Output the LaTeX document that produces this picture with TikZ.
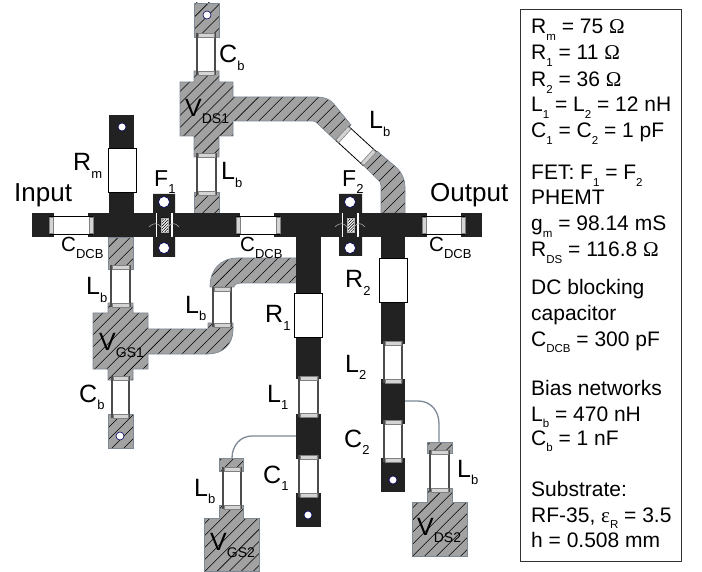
\documentclass[tikz,border=0pt]{standalone}
\usepackage{fontspec}
\usepackage{graphicx}
\setmainfont{Liberation Sans}
\newfontfamily\symf{Liberation Serif}
\usetikzlibrary{patterns.meta}
\definecolor{hg}{HTML}{A2A2A2}
\definecolor{edgeg}{HTML}{7C8894}
\definecolor{blk}{HTML}{222222}
\definecolor{stripg}{HTML}{D4D4D4}
\newcommand{\sbb}[1]{\raisebox{-.3em}{\fontsize{13}{13}\selectfont #1}}
\newcommand{\sbs}[1]{\raisebox{-.3em}{\fontsize{11.5}{12}\selectfont #1}}
\newcommand{\sbv}[1]{\raisebox{-.28em}{\fontsize{14}{14}\selectfont #1}}
\newcommand{\Om}{{\symf Ω}}
% vertical component: x1 x2 y1 y2
\newcommand{\vcomp}[4]{%
  \fill[white] (#1,#3) rectangle (#2,#4);
  \draw[sidel] (#1,#3) -- (#1,#4) (#2,#3) -- (#2,#4);
  \path[stripv] (#1+1,#3) rectangle (#2-1,#3+4);
  \path[stripv] (#1+1,#4-4) rectangle (#2-1,#4);}
\newcommand{\hcomp}[4]{%
  \fill[white] (#1,#3) rectangle (#2,#4);
  \draw[black,line width=.7pt] (#1,#3) -- (#2,#3) (#1,#4) -- (#2,#4);
  \path[stripv] (#1,#3+1) rectangle (#1+4,#4-1);
  \path[stripv] (#2-4,#3+1) rectangle (#2,#4-1);}
\tikzset{
  x=1pt,y=-1pt,
  hpad/.style={draw=edgeg,line width=.7pt,preaction={fill=hg},
    pattern={Lines[angle=45,distance=8.5pt,line width=.55pt]},pattern color=black},
  bpad/.style={fill=blk},
  sidel/.style={draw=black!70,line width=1.1pt},
  stripv/.style={fill=stripg,draw=gray,line width=.6pt},
  resbox/.style={fill=white,draw=black,line width=.7pt},
  hole/.style={circle,fill=white,draw=blue!40!black,line width=.6pt,inner sep=0pt,minimum size=#1},
  hole/.default=8pt,
  wire/.style={draw=edgeg,line width=1.3pt},
  big/.style={anchor=base west,inner sep=0pt,font=\fontsize{25}{25}\selectfont},
  mid/.style={anchor=base west,inner sep=0pt,font=\fontsize{20.5}{20.5}\selectfont},
  boxt/.style={anchor=base west,inner sep=0pt,font=\fontsize{21}{21}\selectfont},
}
\begin{document}
\begin{tikzpicture}
\useasboundingbox (0,0) rectangle (702,572);
% hatched bias networks
\path[hpad] (194,3) rectangle (219,37);
\path[hpad] (194,71) -- (219,71) -- (219,82) -- (233,82) -- (233,97) -- (317,97)
  .. controls (324,97) and (329,99) .. (333,103) -- (351,125) -- (335,140) -- (318,124)
  .. controls (316,122) and (315,121) .. (313,121) -- (233,121) -- (233,136) -- (219,136)
  -- (219,157) -- (194,157) -- (194,136) -- (180,136) -- (180,82) -- (194,82) -- cycle;
\path[hpad] (377,151) -- (397,168) .. controls (402,173) and (405,180) .. (405,187) -- (405,213)
  -- (381,213) -- (381,186) .. controls (381,183) and (380,181) .. (378,180) -- (363,165) -- cycle;
\path[hpad] (194,192) rectangle (219,213);
\path[hpad] (108,237) rectangle (133,269);
\path[hpad] (108,303) -- (133,303) -- (133,313) -- (148,313) -- (148,329) -- (208,329)
  -- (208,323) -- (233,323) -- (233,330) .. controls (233,345) and (222,354) .. (208,354)
  -- (148,354) -- (148,369) -- (133,369) -- (133,380) -- (108,380) -- (108,369) -- (93,369)
  -- (93,313) -- (108,313) -- cycle;
\path[hpad] (108,414) rectangle (133,448);
\path[hpad] (210,287) .. controls (210,270) and (220,258) .. (238,258) -- (297,258) -- (297,283)
  -- (243,283) .. controls (238,283) and (234,284) .. (234,287) -- cycle;
\path[hpad] (219,458) rectangle (243,471);
\path[hpad] (219,505) -- (243,505) -- (243,518) -- (259,518) -- (259,571) -- (204,571) -- (204,518) -- (219,518) -- cycle;
\path[hpad] (427,442) rectangle (452,453);
\path[hpad] (427,488) -- (452,488) -- (452,502) -- (467,502) -- (467,556) -- (412,556) -- (412,502) -- (427,502) -- cycle;
% bias wires
\coordinate (wa1) at (296,436); \coordinate (wa2) at (232,458);
\coordinate (wb1) at (405,401); \coordinate (wb2) at (439,442);
\draw[wire] (wa1) -- (252,436) .. controls (240,436) and (232,446) .. (wa2);
\draw[wire] (wb1) -- (418,401) .. controls (431,401) and (439,411) .. (439,424) -- (wb2);
% black microstrip
\fill[bpad] (32,213) rectangle (54,237);
\fill[bpad] (88,213) rectangle (156,237);
\fill[bpad] (109,115) rectangle (134,213);
\fill[bpad] (173,213) rectangle (240,237);
\fill[bpad] (274,213) rectangle (342,237);
\fill[bpad] (296,237) rectangle (321,379);
\fill[bpad] (296,414) rectangle (321,459);
\fill[bpad] (296,493) rectangle (321,527);
\fill[bpad] (359,213) rectangle (427,237);
\fill[bpad] (381,237) rectangle (405,344);
\fill[bpad] (381,379) rectangle (405,424);
\fill[bpad] (381,458) rectangle (405,492);
\fill[bpad] (461,213) rectangle (482,237);
% FET 1
\fill[bpad] (153,194) -- (175,194) -- (175,213) -- (171,213) -- (171,237) -- (175,237) -- (175,257)
  -- (153,257) -- (153,237) -- (157,237) -- (157,213) -- (153,213) -- cycle;
\draw[white,line width=1pt] (156.5,213) -- (156.5,237) (171.5,213) -- (171.5,237);
\path[draw=black!30,pattern={Lines[angle=45,distance=2pt,line width=.6pt]},pattern color=black,preaction={fill=white}] (161,218) rectangle (168,232);
\draw[gray!70,line width=.6pt] (149,227) .. controls (154,222) and (158,223) .. (161,227);
\draw[gray!70,line width=.6pt] (168,227) .. controls (171,223) and (175,222) .. (179,227);
\node[hole=11pt] (h1a) at (164,202) {};
\node[hole=11pt] (h1b) at (164,248) {};
% FET 2
\fill[bpad] (339,194) -- (362,194) -- (362,213) -- (357,213) -- (357,237) -- (362,237) -- (362,256)
  -- (339,256) -- (339,237) -- (343,237) -- (343,213) -- (339,213) -- cycle;
\draw[white,line width=1pt] (342.5,213) -- (342.5,237) (357.5,213) -- (357.5,237);
\path[draw=black!30,pattern={Lines[angle=45,distance=2pt,line width=.6pt]},pattern color=black,preaction={fill=white}] (347,218) rectangle (354,232);
\draw[gray!70,line width=.6pt] (335,227) .. controls (340,222) and (344,223) .. (347,227);
\draw[gray!70,line width=.6pt] (354,227) .. controls (357,223) and (361,222) .. (365,227);
\node[hole=11pt] (h2a) at (350,202) {};
\node[hole=11pt] (h2b) at (350,248) {};
% holes
\node[hole] (h3) at (207,15) {};
\node[hole] (h4) at (122,127) {};
\node[hole] (h5) at (120,436) {};
\node[hole] (h6) at (308,515) {};
\node[hole] (h7) at (393,480) {};
% resistors
\path[resbox] (108,148) rectangle (136,192);
\path[resbox] (294,293) rectangle (322,337);
\path[resbox] (379,258) rectangle (407,302);
% components
\vcomp{197}{215}{33}{75}
\vcomp{197}{216}{153}{195}
\vcomp{111}{130}{265}{307}
\vcomp{112}{129}{376}{418}
\vcomp{213}{231}{287}{327}
\vcomp{299}{318}{376}{417}
\vcomp{299}{318}{455}{497}
\vcomp{384}{402}{341}{383}
\vcomp{384}{402}{420}{462}
\vcomp{223}{241}{467}{509}
\vcomp{430}{449}{450}{492}
\hcomp{49}{93}{216}{234}
\hcomp{236}{280}{216}{234}
\hcomp{422}{465}{216}{234}
\begin{scope}[shift={(356,146)},rotate=-42.5]
  \fill[white] (-19,-9.5) rectangle (19,9.5);
  \draw[black,line width=.8pt] (-19,-9.5) -- (19,-9.5) (-19,9.5) -- (19,9.5);
  \path[stripv] (-19,-9) rectangle (-15,9);
  \path[stripv] (15,-9) rectangle (19,9);
\end{scope}
% labels
\node[big,font=\fontsize{26}{26}\selectfont] (tin) at (14,202) {Input};
\node[big,font=\fontsize{26}{26}\selectfont] (tout) at (430,202) {Output};
\node[big] (trm) at (73,171) {R\sbb{m}};
\node[mid,font=\fontsize{23}{23}\selectfont] (tf1) at (154,187) {F\sbb{1}};
\node[mid,font=\fontsize{23}{23}\selectfont] (tf2) at (342,187) {F\sbb{2}};
\node[big] (tcb1) at (219,63) {C\sbb{b}};
\node[big] (tv1) at (185,117) {V\sbv{DS1}};
\node[big] (tlb1) at (221,180) {L\sbb{b}};
\node[mid] (tc1) at (61,252) {C\sbb{DCB}};
\node[mid] (tc2) at (240,252) {C\sbb{DCB}};
\node[mid] (tc3) at (429,252) {C\sbb{DCB}};
\node[big] (tlb2) at (369,129) {L\sbb{b}};
\node[big] (tr1) at (265,323) {R\sbb{1}};
\node[big] (tr2) at (345,288) {R\sbb{2}};
\node[big] (tlb3) at (86,295) {L\sbb{b}};
\node[big] (tlb4) at (185,313) {L\sbb{b}};
\node[big] (tcb2) at (79,402) {C\sbb{b}};
\node[big] (tl1) at (267,402) {L\sbb{1}};
\node[big] (tc1b) at (263,483) {C\sbb{1}};
\node[big] (tlb5) at (194,496) {L\sbb{b}};
\node[big] (tv2) at (99,350) {V\sbv{GS1}};
\node[big] (tv3) at (210,550) {V\sbv{GS2}};
\node[big] (tl2) at (345,372) {L\sbb{2}};
\node[big] (tc2b) at (344,447) {C\sbb{2}};
\node[big] (tlb6) at (457,477) {L\sbb{b}};
\node[big] (tv4) at (417,535) {V\sbv{DS2}};
% value box
\draw[black!80,line width=.9pt] (520,9) rectangle (681,561);
\node[boxt] (b1) at (531,34) {R\sbs{m} = 75 \Om};
\node[boxt] (b2) at (531,60) {R\sbs{1} = 11 \Om};
\node[boxt] (b3) at (531,87) {R\sbs{2} = 36 \Om};
\node[boxt] (b4) at (531,112) {L\sbs{1} = L\sbs{2} = 12 nH};
\node[boxt] (b5) at (531,138) {C\sbs{1} = C\sbs{2} = 1 pF};
\node[boxt] (b6) at (531,180) {FET: F\sbs{1} = F\sbs{2}};
\node[boxt] (b7) at (531,205) {PHEMT};
\node[boxt] (b8) at (531,231) {g\sbs{m} = 98.14 mS};
\node[boxt] (b9) at (531,257) {R\sbs{DS} = 116.8 \Om};
\node[boxt] (b10) at (531,295) {DC blocking};
\node[boxt] (b11) at (531,320) {capacitor};
\node[boxt] (b12) at (531,346) {C\sbs{DCB} = 300 pF};
\node[boxt] (b13) at (531,395) {Bias networks};
\node[boxt] (b14) at (531,421) {L\sbs{b} = 470 nH};
\node[boxt] (b15) at (531,445) {C\sbs{b} = 1 nF};
\node[boxt] (b16) at (531,496) {Substrate:};
\node[boxt] (b17) at (531,522) {RF-35, {\symf ε}\sbs{R} = 3.5};
\node[boxt] (b18) at (531,547) {h = 0.508 mm};
\end{tikzpicture}
\end{document}
